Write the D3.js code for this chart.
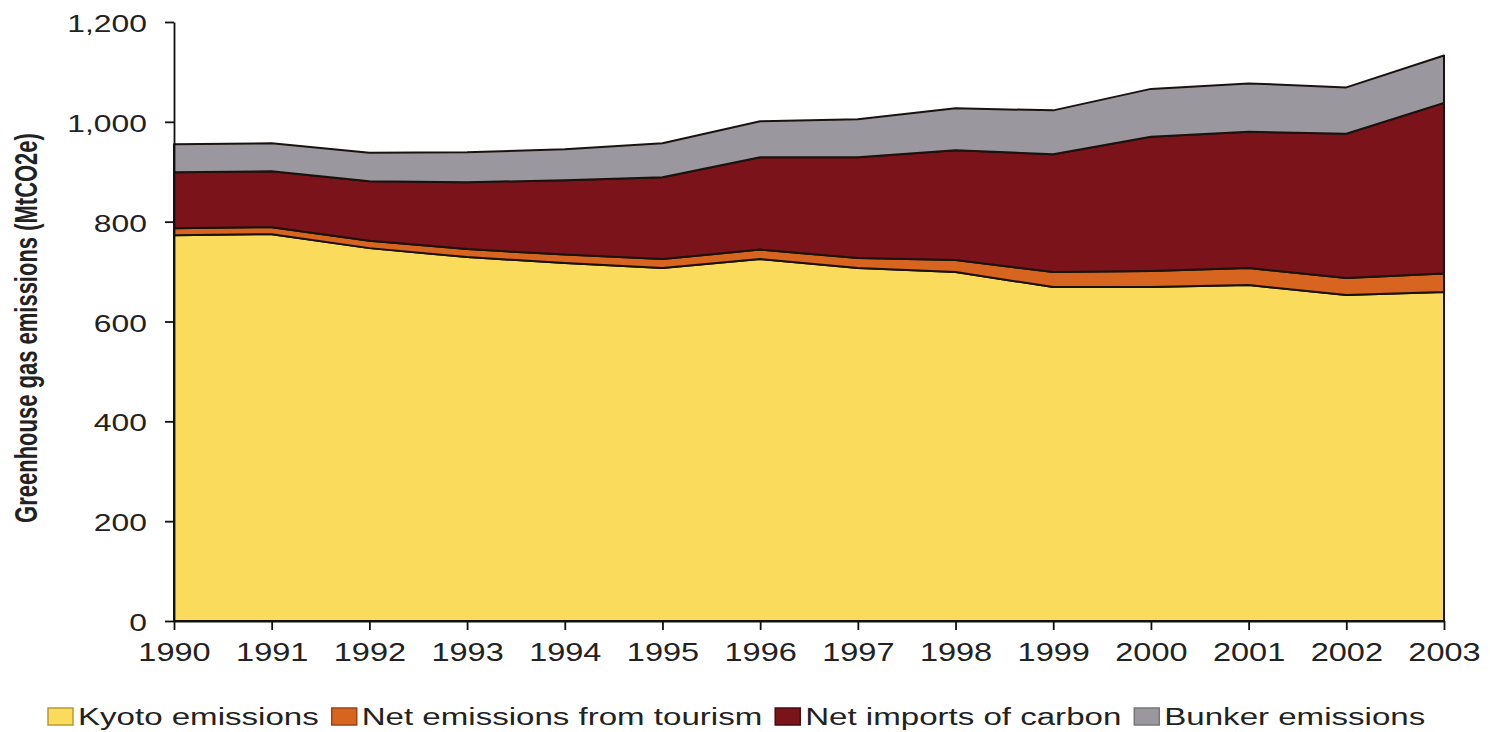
<!DOCTYPE html>
<html>
<head>
<meta charset="utf-8">
<script src="https://cdn.jsdelivr.net/npm/d3@7"></script>
<style>
    body { margin: 0; background: #fff; }
    text { font-family: Arial, "Liberation Sans", sans-serif; fill: #222; }
</style>
</head>
<body>
<svg id="chart" width="1490" height="732"></svg>
<script>
// values, MtCO2e
var years = [1990, 1991, 1992, 1993, 1994, 1995, 1996, 1997, 1998, 1999, 2000, 2001, 2002, 2003];
var kyoto = [773, 775, 747, 729, 717, 707, 725, 707, 699, 669, 669, 673, 653, 659];
var tourism = [14, 14, 15, 16, 17, 18, 19, 20, 24, 30, 32, 34, 34, 37];
var net_imports = [112, 112, 119, 134, 149, 164, 185, 202, 220, 236, 269, 273, 289, 342];
var bunker = [56, 56, 57, 60, 62, 68, 72, 76, 84, 88, 96, 97, 93, 95];
var y_ticks = [0, 200, 400, 600, 800, 1000, 1200];

var series_names = ['Kyoto emissions', 'Net emissions from tourism', 'Net imports of carbon', 'Bunker emissions'];
var series_keys = ['kyoto', 'tourism', 'net_imports', 'bunker'];
var colors = ['#fadb5b', '#d8651f', '#7a141a', '#9a989e'];
var box_strokes = ['#b89a2a', '#9a4412', '#4a0a0e', '#777'];

var svg = d3.select('#chart');
var stretch = 1.3; // the source picture is wider than it is tall

var rows = years.map(function (yr, i) {
    return { year: yr, kyoto: kyoto[i], tourism: tourism[i],
             net_imports: net_imports[i], bunker: bunker[i] };
});

var x = d3.scaleLinear().domain([1990, 2003]).range([174, 1444]);
var y = d3.scaleLinear().domain([0, 1200]).range([621, 22]);

var stacked = d3.stack().keys(series_keys)(rows);

var area = d3.area()
    .x(function (d) { return x(d.data.year); })
    .y0(function (d) { return y(d[0]); })
    .y1(function (d) { return y(d[1]); });

svg.append('g')
    .selectAll('path')
    .data(stacked)
    .enter()
    .append('path')
    .attr('d', area)
    .attr('fill', function (d, i) { return colors[i]; })
    .attr('stroke', '#1a120e')
    .attr('stroke-width', 2)
    .attr('stroke-linejoin', 'round');

// axes
var y_axis = svg.append('g')
    .attr('transform', 'translate(174,0)')
    .call(d3.axisLeft(y).tickValues(y_ticks).tickSize(9).tickSizeOuter(0)
          .tickFormat(d3.format(',')));
y_axis.selectAll('text').remove();
y_axis.selectAll('.tick')
    .append('text')
    .attr('transform', 'translate(-27,1) scale(' + stretch + ',1)')
    .attr('dy', '0.35em')
    .attr('text-anchor', 'end')
    .style('font-size', '24.5px')
    .text(function (d) { return d3.format(',')(d); });

var x_axis = svg.append('g')
    .attr('transform', 'translate(0,621)')
    .call(d3.axisBottom(x).tickValues(years).tickSize(9).tickSizeOuter(0)
          .tickFormat(d3.format('d')));
x_axis.selectAll('text').remove();
x_axis.selectAll('.tick')
    .append('text')
    .attr('transform', 'translate(0,40) scale(' + stretch + ',1)')
    .attr('text-anchor', 'middle')
    .style('font-size', '25px')
    .text(function (d) { return d; });

svg.selectAll('.domain, .tick line')
    .attr('stroke', '#111')
    .attr('stroke-width', 1.8);

// y title
svg.append('text')
    .attr('transform', 'translate(37,328) scale(1.4,1) rotate(-90)')
    .attr('text-anchor', 'middle')
    .style('font-size', '22px')
    .style('font-weight', 'bold')
    .text('Greenhouse gas emissions (MtCO2e)');

// legend
var legend = svg.append('g').attr('class', 'legend');
var lx = 48;
series_names.forEach(function (name, i) {
    legend.append('rect')
        .attr('x', lx).attr('y', 708)
        .attr('width', 25).attr('height', 17)
        .attr('fill', colors[i])
        .attr('stroke', box_strokes[i])
        .attr('stroke-width', 1.5);
    var t = legend.append('text')
        .attr('transform', 'translate(' + (lx + 30) + ',725) scale(1.35,1)')
        .style('font-size', '24.5px')
        .text(name);
    lx = lx + 30 + t.node().getComputedTextLength() * 1.35 + 13;
});
</script>
</body>
</html>
